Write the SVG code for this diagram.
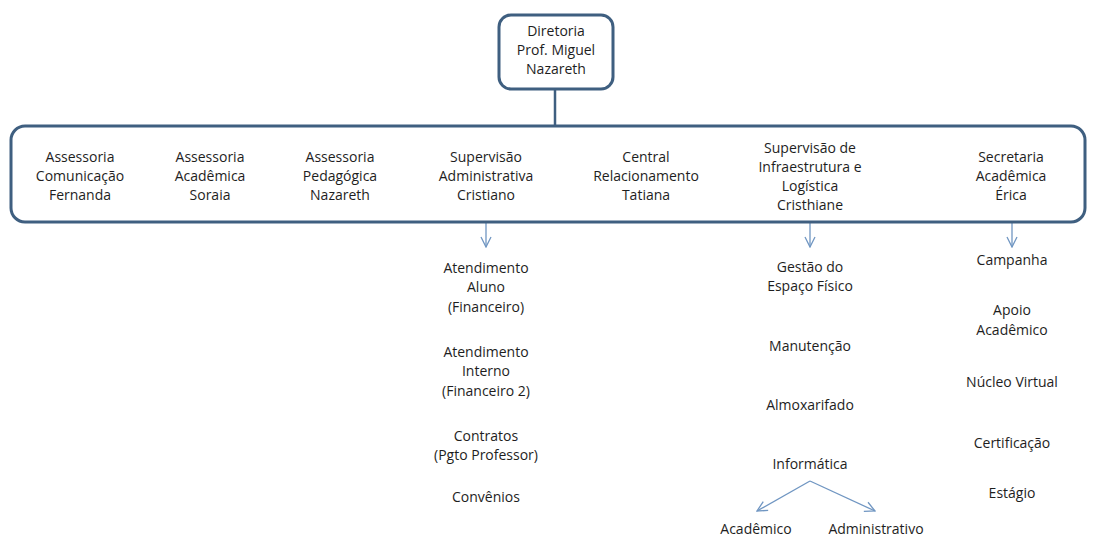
<svg xmlns="http://www.w3.org/2000/svg" width="1096" height="536" viewBox="0 0 1096 536">
<style>
text{font-family:"Open Sans","Liberation Sans",sans-serif;font-size:14px;fill:#1e1e1e;text-anchor:middle}
.box{fill:#fff;stroke:#3f5f80;stroke-width:3}
.ln{stroke:#3f5f80;stroke-width:2.5;fill:none}
.ar{stroke:#7096c2;stroke-width:1.3;fill:none}
</style>
<defs>
<marker id="v" viewBox="0 0 12 12" refX="11" refY="6" markerWidth="12" markerHeight="12" markerUnits="userSpaceOnUse" orient="auto"><path d="M1,1 L11,6 L1,11" fill="none" stroke="#7096c2" stroke-width="1.3"/></marker>
</defs>
<rect width="1096" height="536" fill="#fff"/>
<g id="connectors">
<line class="ln" x1="555" y1="89" x2="555" y2="126"/>
<line class="ar" x1="486" y1="222" x2="486" y2="247" marker-end="url(#v)"/>
<line class="ar" x1="810" y1="222" x2="810" y2="247" marker-end="url(#v)"/>
<line class="ar" x1="1012" y1="222" x2="1012" y2="247" marker-end="url(#v)"/>
<line class="ar" x1="810" y1="481" x2="757" y2="511" marker-end="url(#v)"/>
<line class="ar" x1="810" y1="481" x2="875" y2="511" marker-end="url(#v)"/>
</g>
<g id="diretoria">
<rect class="box" x="499" y="15" width="114" height="74" rx="12"/>
<text x="556" y="36">Diretoria</text>
<text x="556" y="55">Prof. Miguel</text>
<text x="556" y="74">Nazareth</text>
</g>
<g id="nivel1">
<rect class="box" x="11" y="126" width="1074" height="96" rx="14"/>
</g>
<g id="assessoria-comunicacao"><text x="80" y="162">Assessoria</text><text x="80" y="181">Comunicação</text><text x="80" y="200">Fernanda</text></g>
<g id="assessoria-academica"><text x="210" y="162">Assessoria</text><text x="210" y="181">Acadêmica</text><text x="210" y="200">Soraia</text></g>
<g id="assessoria-pedagogica"><text x="340" y="162">Assessoria</text><text x="340" y="181">Pedagógica</text><text x="340" y="200">Nazareth</text></g>
<g id="supervisao-administrativa"><text x="486" y="162">Supervisão</text><text x="486" y="181">Administrativa</text><text x="486" y="200">Cristiano</text></g>
<g id="central-relacionamento"><text x="646" y="162">Central</text><text x="646" y="181">Relacionamento</text><text x="646" y="200">Tatiana</text></g>
<g id="supervisao-infra"><text x="810" y="153">Supervisão de</text><text x="810" y="172">Infraestrutura e</text><text x="810" y="191">Logística</text><text x="810" y="210">Cristhiane</text></g>
<g id="secretaria"><text x="1011" y="162">Secretaria</text><text x="1011" y="181">Acadêmica</text><text x="1011" y="200">Érica</text></g>
<g id="col-admin">
<text x="486" y="273">Atendimento</text><text x="486" y="292">Aluno</text><text x="486" y="312">(Financeiro)</text>
<text x="486" y="357">Atendimento</text><text x="486" y="376">Interno</text><text x="486" y="396">(Financeiro 2)</text>
<text x="486" y="441">Contratos</text><text x="486" y="460">(Pgto Professor)</text>
<text x="486" y="502">Convênios</text>
</g>
<g id="col-infra">
<text x="810" y="272">Gestão do</text><text x="810" y="291">Espaço Físico</text>
<text x="810" y="351">Manutenção</text>
<text x="810" y="410">Almoxarifado</text>
<text x="810" y="469">Informática</text>
<text x="756" y="534">Acadêmico</text>
<text x="876" y="534">Administrativo</text>
</g>
<g id="col-secretaria">
<text x="1012" y="265">Campanha</text>
<text x="1012" y="315">Apoio</text><text x="1012" y="335">Acadêmico</text>
<text x="1012" y="387">Núcleo Virtual</text>
<text x="1012" y="448">Certificação</text>
<text x="1012" y="498">Estágio</text>
</g>
</svg>
